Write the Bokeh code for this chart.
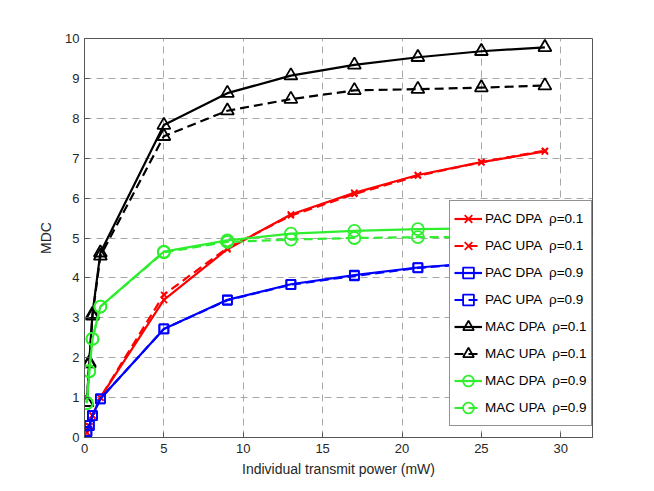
from bokeh.plotting import figure
from bokeh.models import Range1d, FixedTicker, Legend
from bokeh.embed import file_html
from bokeh.resources import INLINE

# ---- data ----
power = [0.15, 0.3, 0.5, 1, 5, 9, 13, 17, 21, 25, 29]

pac_dpa_01 = [0.12, 0.28, 0.55, 1.0, 3.45, 4.72, 5.59, 6.13, 6.58, 6.90, 7.17]
pac_upa_01 = [0.12, 0.28, 0.55, 1.0, 3.58, 4.75, 5.56, 6.10, 6.56, 6.90, 7.19]
pac_dpa_09 = [0.15, 0.30, 0.55, 0.97, 2.72, 3.45, 3.84, 4.07, 4.26, 4.38, 4.48]
pac_upa_09 = [0.15, 0.30, 0.55, 0.97, 2.72, 3.44, 3.83, 4.05, 4.25, 4.37, 4.47]
mac_dpa_01 = [0.88, 1.88, 3.09, 4.63, 7.83, 8.63, 9.07, 9.34, 9.53, 9.68, 9.78]
mac_upa_01 = [0.88, 1.85, 3.05, 4.55, 7.55, 8.19, 8.48, 8.70, 8.73, 8.77, 8.82]
mac_dpa_09 = [0.86, 1.66, 2.47, 3.28, 4.66, 4.94, 5.11, 5.18, 5.22, 5.24, 5.26]
mac_upa_09 = [0.86, 1.66, 2.47, 3.28, 4.64, 4.90, 4.96, 5.00, 5.02, 5.03, 5.04]

x_ticks = [0, 5, 10, 15, 20, 25, 30]
y_ticks = [0, 1, 2, 3, 4, 5, 6, 7, 8, 9, 10]

labels = ["PAC DPA  \u03c1=0.1", "PAC UPA  \u03c1=0.1",
          "PAC DPA  \u03c1=0.9", "PAC UPA  \u03c1=0.9",
          "MAC DPA  \u03c1=0.1", "MAC UPA  \u03c1=0.1",
          "MAC DPA  \u03c1=0.9", "MAC UPA  \u03c1=0.9"]

RED, BLUE, BLACK, GREEN = "#ff0000", "#0000ff", "#000000", "#2eee2e"
FONT = "Liberation Sans"
TXT = "#262626"

p = figure(output_backend="svg", toolbar_location=None,
           frame_width=508, frame_height=399,
           min_border_left=84, min_border_right=54,
           min_border_top=38, min_border_bottom=46,
           x_range=Range1d(0, 32), y_range=Range1d(0, 10))
p.background_fill_color = "white"
p.border_fill_color = "white"
p.outline_line_color = "#555555"
p.outline_line_width = 1

for ax in (p.xaxis[0], p.yaxis[0]):
    ax.major_tick_in = 5
    ax.major_tick_out = 0
    ax.minor_tick_line_color = None
    ax.axis_line_color = "#555555"
    ax.major_tick_line_color = "#555555"
    ax.major_label_text_font = FONT
    ax.major_label_text_font_size = "13px"
    ax.major_label_text_color = TXT
    ax.axis_label_text_font = FONT
    ax.axis_label_text_font_size = "14px"
    ax.axis_label_text_font_style = "normal"
    ax.axis_label_text_color = TXT

p.xaxis.ticker = FixedTicker(ticks=x_ticks)
p.yaxis.ticker = FixedTicker(ticks=y_ticks)
p.xaxis.axis_label = "Individual transmit power (mW)"
p.yaxis.axis_label = "MDC"
p.xaxis.major_label_standoff = 6
p.yaxis.major_label_standoff = 5
p.xaxis.axis_label_standoff = 5
p.yaxis.axis_label_standoff = 8

p.grid.grid_line_color = "#a8a8a8"
p.grid.grid_line_dash = "7 5"
p.grid.grid_line_width = 1
p.xgrid.ticker = FixedTicker(ticks=x_ticks)
p.ygrid.ticker = FixedTicker(ticks=y_ticks)

series = [
    (pac_dpa_01, RED, "solid", "x", 9),
    (pac_upa_01, RED, "9 5", "x", 8),
    (pac_dpa_09, BLUE, "solid", "square", 9),
    (pac_upa_09, BLUE, "9 5", "square", 9),
    (mac_dpa_01, BLACK, "solid", "triangle", 13),
    (mac_upa_01, BLACK, "9 5", "triangle", 13),
    (mac_dpa_09, GREEN, "solid", "circle", 12),
    (mac_upa_09, GREEN, "9 5", "circle", 12),
]

items = []
for (ys, col, dash, mk, sz), lab in zip(series, labels):
    r1 = p.line(power, ys, line_color=col, line_width=2.2, line_dash=dash)
    r2 = p.scatter(power, ys, marker=mk, size=sz, line_color=col,
                   line_width=1.8, fill_alpha=0)
    items.append((lab, [r1, r2]))

legend = Legend(items=items, location=(365, 11), margin=0,
                padding=4, spacing=0, glyph_width=28, glyph_height=27,
                label_height=27, label_standoff=3,
                label_text_font=FONT, label_text_font_size="13.5px",
                label_text_color="#000000",
                border_line_color="#262626", border_line_width=1,
                background_fill_color="white", background_fill_alpha=1)
p.add_layout(legend, "center")

open("out.html", "w").write(file_html(p, INLINE))
